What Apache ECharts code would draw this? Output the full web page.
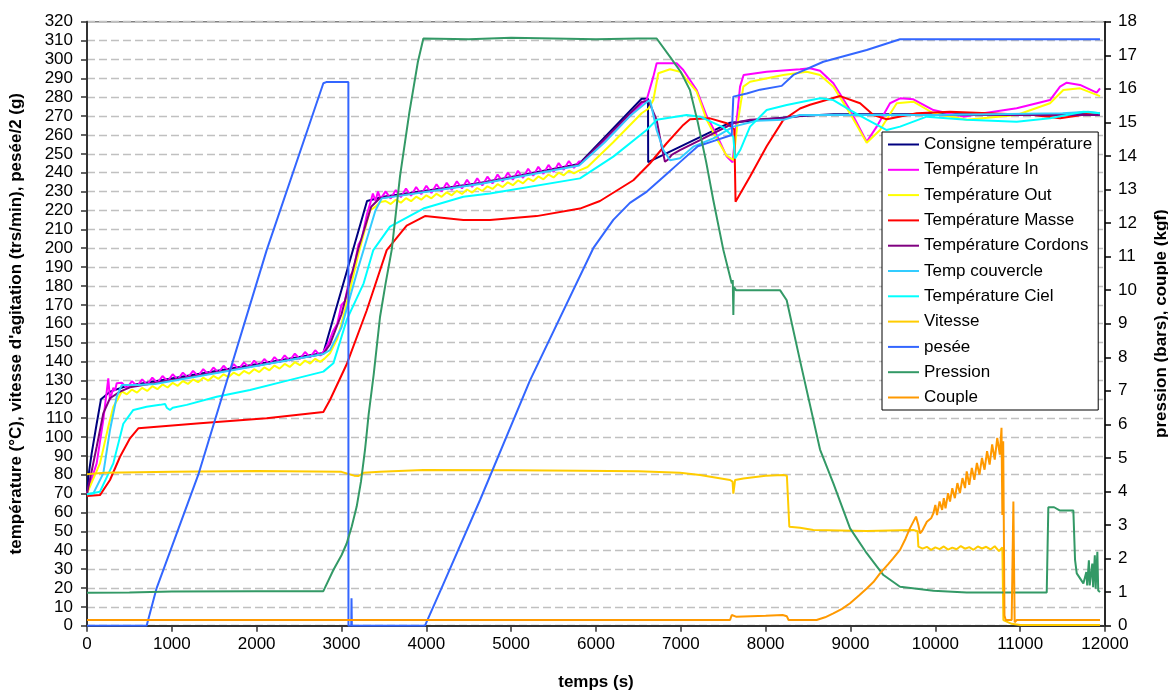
<!DOCTYPE html>
<html><head><meta charset="utf-8">
<script src="https://cdn.jsdelivr.net/npm/echarts@6/dist/echarts.min.js"></script>
<style>html,body{margin:0;padding:0;background:#fff}#c{width:1168px;height:693px}</style>
</head><body><div id="c"></div>
<script>
// ---- data (time in s, value) ----
const seriesNames = ['Consigne température','Température In','Température Out','Température Masse','Température Cordons','Temp couvercle','Température Ciel','Vitesse','pesée','Pression','Couple'];

const consigne = [[0,70],[16,79],[55,91.3],[114,107],[165,120],[271,124],[468,127],[2786,144.5],[3301,225],[3493,227.3],[4633,234.6],[5800,244.6],[6538,279.2],[6613,279.2],[6615,245.6],[7580,266.5],[8012,268.3],[8405,270],[8800,271],[11940,271]];

const tempIn = [[0,70],[114,86],[192,109],[251,131],[271,119.6],[310,126],[330,124.5],[350,128.4],
[410,128.7],[470,125.9],[530,129.6],[590,126.8],[650,130.5],[710,127.7],[770,131.4],[830,128.6],[890,132.3],[950,129.5],[1010,133.2],[1070,130.4],[1130,134.1],[1190,131.4],[1250,135.0],[1310,132.3],[1370,135.9],[1430,133.2],[1490,136.8],[1550,134.1],[1610,137.7],[1670,135.0],[1730,138.6],[1790,135.9],[1850,139.5],[1910,136.8],[1970,140.4],[2030,137.7],[2090,141.3],[2150,138.6],[2210,142.3],[2270,139.5],[2330,143.2],[2390,140.4],[2450,144.1],[2510,141.3],[2570,145.0],[2630,142.2],[2690,145.9],[2750,143.1],[2800,146],
[2850,150],[2900,156],[2950,160],[3000,170],[3040,172],[3100,185],[3140,188],[3200,202],[3240,205],[3300,218],[3340,224],[3370,229],[3400,225],[3430,230],[3460,226],
[3520,230.1],[3580,226.3],[3640,230.8],[3700,227.0],[3760,231.6],[3820,227.8],[3880,232.4],[3940,228.6],[4000,233.1],[4060,229.3],[4120,233.9],[4180,230.1],[4240,234.7],[4300,230.9],[4360,235.5],[4420,231.6],[4480,236.2],[4540,232.4],[4600,237.0],[4660,233.2],[4720,237.9],[4780,234.3],[4840,239.0],[4900,235.3],[4960,240.0],[5020,236.3],[5080,241.0],[5140,237.3],[5200,242.1],[5260,238.4],[5320,243.1],[5380,239.4],[5440,244.1],[5500,240.4],[5560,245.1],[5620,241.5],[5680,246.2],[5740,242.5],[5800,246],
[5850,246],[6200,261],[6538,276.5],[6600,279],[6676,290.9],[6715,298],[6951,298],[7029,294.4],[7187,283.8],[7305,270],[7423,260],[7541,248.5],[7610,245.5],[7659,268],[7698,285.6],[7740,291.8],[8012,293.5],[8405,294.8],[8523,295.3],[8641,294],[8798,287.4],[8995,273.2],[9191,256.4],[9309,264.4],[9466,276.8],[9584,279.4],[9741,278.9],[9977,273.2],[10330,269.7],[10566,271.5],[10959,274.1],[11352,278.5],[11470,285.6],[11549,287.7],[11706,286.5],[11902,282.4],[11941,284.7]];

const tempOut = [[0,70.1],[153,86],[251,105.4],[310,116],[369,120.5],
[410,124.2],[470,122.6],[530,125.1],[590,123.5],[650,126.0],[710,124.4],[770,126.9],[830,125.3],[890,127.8],[950,126.2],[1010,128.7],[1070,127.1],[1130,129.6],[1190,128.1],[1250,130.5],[1310,129.0],[1370,131.4],[1430,129.9],[1490,132.3],[1550,130.8],[1610,133.2],[1670,131.7],[1730,134.1],[1790,132.6],[1850,135.0],[1910,133.5],[1970,135.9],[2030,134.4],[2090,136.8],[2150,135.3],[2210,137.8],[2270,136.2],[2330,138.7],[2390,137.1],[2450,139.6],[2510,138.0],[2570,140.5],[2630,138.9],[2690,141.4],[2750,139.8],[2800,141.5],
[2864,144.3],[2950,152],[3000,160],[3100,178],[3200,197],[3336,220],[3400,222],[3460,224.5],
[3520,225.0],[3580,223.4],[3640,225.7],[3700,224.1],[3760,226.5],[3820,224.9],[3880,227.3],[3940,225.7],[4000,228.0],[4060,226.4],[4120,228.8],[4180,227.2],[4240,229.6],[4300,228.0],[4360,230.4],[4420,228.7],[4480,231.1],[4540,229.5],[4600,231.9],[4660,230.3],[4720,232.8],[4780,231.4],[4840,233.9],[4900,232.4],[4960,234.9],[5020,233.4],[5080,235.9],[5140,234.4],[5200,237.0],[5260,235.5],[5320,238.0],[5380,236.5],[5440,239.0],[5500,237.5],[5560,240.0],[5620,238.6],[5680,241.1],[5740,239.6],[5800,241.1],
[5900,243],[6200,256],[6538,271.5],[6620,274],[6676,278.5],[6735,292.7],[6873,294.8],[6990,293.5],[7187,282.9],[7305,268],[7423,258],[7541,249],[7620,246.7],[7665,265],[7737,285.6],[7816,288.2],[8208,291.8],[8484,293.5],[8641,291.8],[8798,285.6],[9000,271],[9191,255.9],[9348,262.6],[9545,276.8],[9741,277.6],[9977,271.5],[10370,268],[10959,270.6],[11352,276.8],[11509,283.8],[11706,284.7],[11941,280.6]];

const tempMasse = [[0,68.7],[153,69.2],[271,77.2],[389,89.5],[507,99.3],[605,104.6],[1332,107.2],[2118,109.9],[2786,113.2],[2864,119.6],[3061,138.5],[3297,167],[3533,199],[3768,212],[3984,217],[4436,215],[4750,215],[5300,217],[5811,221],[6047,225],[6440,236],[6637,245],[6833,255.6],[7029,265.3],[7108,268.3],[7344,268.8],[7541,266.2],[7630,263],[7645,224.6],[7816,238],[8012,254],[8208,268],[8405,274],[8523,276],[8877,280.6],[9113,276.8],[9270,270.6],[9427,268.3],[9781,271.5],[10173,272.3],[11155,270.6],[11470,268.8],[11863,271.5],[11941,271.5]];

const tempCordons = [[0,70],[114,94.8],[192,112.5],[271,120.5],[389,124],[507,126.3],[2786,144],[2864,149],[3000,165],[3200,200],[3350,222],[3450,226.5],[4633,234.3],[5800,244.2],[6538,277.5],[6620,278],[6637,277.6],[6715,268],[6774,253.8],[6813,245.8],[6850,247],[6892,249.4],[6990,252],[7226,257.3],[7619,266.2],[7816,268],[8200,269],[8500,270.6],[11940,270.6]];

const tempCouvercle = [[0,69.6],[75,70.1],[192,80.7],[271,103.7],[350,121.3],[409,127.5],[600,127.5],[800,128],[2786,144],[2864,146],[3000,158],[3200,190],[3400,220],[3474,226.4],[4633,234],[5800,243.8],[6100,256],[6400,270],[6600,277.5],[6637,278.5],[6715,262.6],[6794,252],[6873,246.6],[6990,247.6],[7147,253.8],[7383,258.2],[7619,264.4],[7894,267.5],[8208,268],[8400,270.6],[10000,270.6],[11500,271.5],[11800,272.3],[11940,271.5]];

const tempCiel = [[0,69.6],[153,71],[310,86],[428,107],[546,114.3],[703,116],[860,117],[920,117.5],[940,115.5],[978,114.3],[1010,115.5],[1175,117],[1529,121.3],[1921,124.9],[2314,129.3],[2786,134.6],[2904,139],[3061,162],[3261,181.4],[3375,199],[3572,211.4],[3965,221],[4436,227.3],[4750,229],[5811,237],[6204,248.5],[6597,262.6],[6715,268],[7069,270.6],[7226,269.7],[7500,264],[7619,259],[7639,247.6],[7700,252],[7816,264.4],[8012,273.2],[8248,275.9],[8641,279.4],[8798,278.5],[8995,273.2],[9191,268.3],[9427,262.6],[9584,264.4],[9898,269.7],[10370,268],[10959,267],[11352,268.8],[11745,272.3],[11941,271.5]];

const vitesse = [[0,80.2],[200,81],[1000,81.5],[2000,82],[3000,81.5],[3081,80.4],[3150,79.5],[3200,79.3],[3260,81],[3454,81.6],[3965,82.5],[5000,82.3],[5811,82.1],[6500,81.8],[6990,81],[7226,79.8],[7580,77.2],[7610,76.3],[7619,70],[7640,77.2],[7737,78],[8000,79.5],[8208,79.8],[8250,79.5],[8279,52.4],[8405,51.9],[8562,50.7],[9191,50.2],[9741,50.7],[9790,50],[9800,41.9],[9850,40.8],[9900,41.8],[9950,40.2],[10000,41.5],[10050,40.6],[10100,42],[10150,40.3],[10200,41.4],[10250,40.5],[10300,42.2],[10350,40.8],[10400,41.6],[10450,40.2],[10500,42],[10550,40.9],[10600,41.8],[10650,40.4],[10700,42.1],[10750,39.5],[10790,41.5],[10802,3],[10900,1],[11000,0.4],[11941,0.4]];

const pesee = [[0,0],[703,0],[820,19.8],[1312,80],[2118,199],[2786,287.4],[2820,288],[3081,288],[3082,0],[3115,0],[3118,14.5],[3122,0],[3984,0],[4200,22],[4633,66.6],[5222,130],[5968,200],[6204,215],[6400,224],[6600,230],[6800,238],[7000,246],[7200,254],[7400,257],[7600,260],[7619,280.3],[7777,282],[7933,284],[8189,286],[8326,291.8],[8680,298.8],[9191,305],[9584,310.7],[11941,310.7]];

const pression = [[0,0.98],[500,0.99],[1000,1.02],[2000,1.03],[2786,1.03],[2904,1.66],[3000,2.1],[3061,2.45],[3120,2.95],[3179,3.55],[3230,4.3],[3277,5.24],[3290,5.55],[3297,5.55],[3320,6.3],[3380,7.5],[3454,9.2],[3520,10.2],[3592,11.2],[3690,13.4],[3800,15.3],[3900,16.8],[3965,17.5],[4500,17.48],[5000,17.52],[5500,17.5],[6000,17.48],[6500,17.5],[6715,17.5],[6873,16.95],[7000,16.5],[7108,15.96],[7200,15],[7300,13.8],[7383,12.68],[7501,11.2],[7600,10.2],[7612,10.3],[7619,9.26],[7625,10.1],[7650,10.0],[7816,10.0],[8169,10.0],[8248,9.7],[8405,7.9],[8641,5.25],[8798,4.24],[8995,2.9],[9191,2.16],[9388,1.51],[9584,1.16],[9977,1.04],[10370,0.99],[11313,0.99],[11332,3.53],[11400,3.53],[11470,3.43],[11627,3.43],[11647,1.96],[11667,1.56],[11745,1.26],[11780,1.6],[11790,1.2],[11810,1.95],[11820,1.2],[11850,1.85],[11860,1.15],[11880,2.1],[11890,1.1],[11910,2.2],[11920,1.05],[11941,1.0]];

const couple = [[0,0.17],[7580,0.17],[7600,0.32],[7650,0.27],[8000,0.3],[8200,0.32],[8250,0.28],[8270,0.17],[8600,0.17],[8700,0.25],[8798,0.37],[8900,0.5],[8995,0.67],[9100,0.9],[9191,1.11],[9270,1.3],[9348,1.56],[9450,1.85],[9500,2.0],[9584,2.26],[9650,2.6],[9700,2.9],[9772,3.25],[9800,3.0],[9820,2.75],[9850,2.85],[9900,3.1],[9950,3.2],[9977,3.35],[10000,3.6],[10020,3.3],[10050,3.7],[10080,3.45],[10100,3.8],[10120,3.5],[10150,3.95],[10173,3.7],[10200,4.1],[10230,3.8],[10260,4.25],[10290,3.95],[10320,4.4],[10350,4.1],[10370,4.6],[10400,4.2],[10430,4.7],[10460,4.35],[10490,4.85],[10520,4.5],[10550,5.0],[10580,4.65],[10610,5.2],[10640,4.8],[10670,5.4],[10700,4.95],[10730,5.6],[10760,5.1],[10780,5.9],[10790,3.3],[10800,5.5],[10815,0.3],[10830,0.17],[10900,0.17],[10920,3.7],[10935,0.1],[10960,0.17],[11941,0.17]];

const leftTicks = {min:0,max:320,interval:10};
const rightTicks = {min:0,max:18,interval:1};
const xTicks = {min:0,max:12000,interval:1000};

// ---- styles ----
const colors = ['#000080','#FF00FF','#FFFF00','#FF0000','#800080','#33CCFF','#00FFFF','#FFCC00','#3366FF','#339966','#FF9900'];
const dataList = [consigne,tempIn,tempOut,tempMasse,tempCordons,tempCouvercle,tempCiel,vitesse,pesee,pression,couple];
const axisIdx = [0,0,0,0,0,0,0,0,0,1,1];
const FONT = 'Liberation Sans, Arial, sans-serif';

const chart = echarts.init(document.getElementById('c'), null, {renderer:'canvas'});
chart.setOption({
  animation:false,
  backgroundColor:'#fff',
  textStyle:{fontFamily:FONT},
  grid:{left:87,right:63,top:21.7,bottom:67.3,containLabel:false,outerBoundsMode:'none',show:true,borderColor:'#808080',borderWidth:1.5,backgroundColor:'transparent'},
  legend:{
    orient:'vertical',left:882,top:132,
    backgroundColor:'#fff',borderColor:'#000',borderWidth:1,
    padding:[3,6,3,6],itemGap:6.3,itemWidth:31,itemHeight:2,icon:'rect',
    textStyle:{fontFamily:FONT,fontSize:17,color:'#000',lineHeight:19},
    data:seriesNames
  },
  xAxis:{type:'value',min:xTicks.min,max:xTicks.max,interval:xTicks.interval,
    name:'temps (s)',nameLocation:'middle',nameGap:48,
    nameTextStyle:{fontFamily:FONT,fontSize:17,fontWeight:'bold',color:'#000'},
    axisLine:{show:true,onZero:false,lineStyle:{color:'#333',width:2}},
    axisTick:{show:true,length:6,lineStyle:{color:'#333',width:1.5}},
    axisLabel:{fontFamily:FONT,fontSize:17,color:'#000',margin:10,formatter:v=>String(v)},
    splitLine:{show:false}},
  yAxis:[
    {type:'value',min:leftTicks.min,max:leftTicks.max,interval:leftTicks.interval,position:'left',
     name:"température (°C), vitesse d'agitation (trs/min), pesée/2 (g)",nameLocation:'middle',nameGap:62,nameRotate:90,
     nameTextStyle:{fontFamily:FONT,fontSize:17,fontWeight:'bold',color:'#000'},
     axisLine:{show:true,onZero:false,lineStyle:{color:'#333',width:2}},
     axisTick:{show:true,length:6,lineStyle:{color:'#333',width:1.5}},
     axisLabel:{fontFamily:FONT,fontSize:17,color:'#000',margin:14,formatter:v=>String(v)},
     splitLine:{show:true,lineStyle:{color:'#C0C0C0',width:1.3,type:[8,4]}}},
    {type:'value',min:rightTicks.min,max:rightTicks.max,interval:rightTicks.interval,position:'right',
     name:'pression (bars), couple (kgf)',nameLocation:'middle',nameGap:48,nameRotate:90,
     nameTextStyle:{fontFamily:FONT,fontSize:17,fontWeight:'bold',color:'#000'},
     axisLine:{show:true,onZero:false,lineStyle:{color:'#000',width:1.5}},
     axisTick:{show:true,length:6,lineStyle:{color:'#000',width:1.5}},
     axisLabel:{fontFamily:FONT,fontSize:17,color:'#000',margin:13,formatter:v=>String(v)},
     splitLine:{show:false}}
  ],
  series: seriesNames.map((n,i)=>({
    name:n,type:'line',yAxisIndex:axisIdx[i],data:dataList[i],
    symbol:'none',showSymbol:false,color:colors[i],
    lineStyle:{color:colors[i],width:2},
    emphasis:{disabled:true}
  }))
});
</script></body></html>
